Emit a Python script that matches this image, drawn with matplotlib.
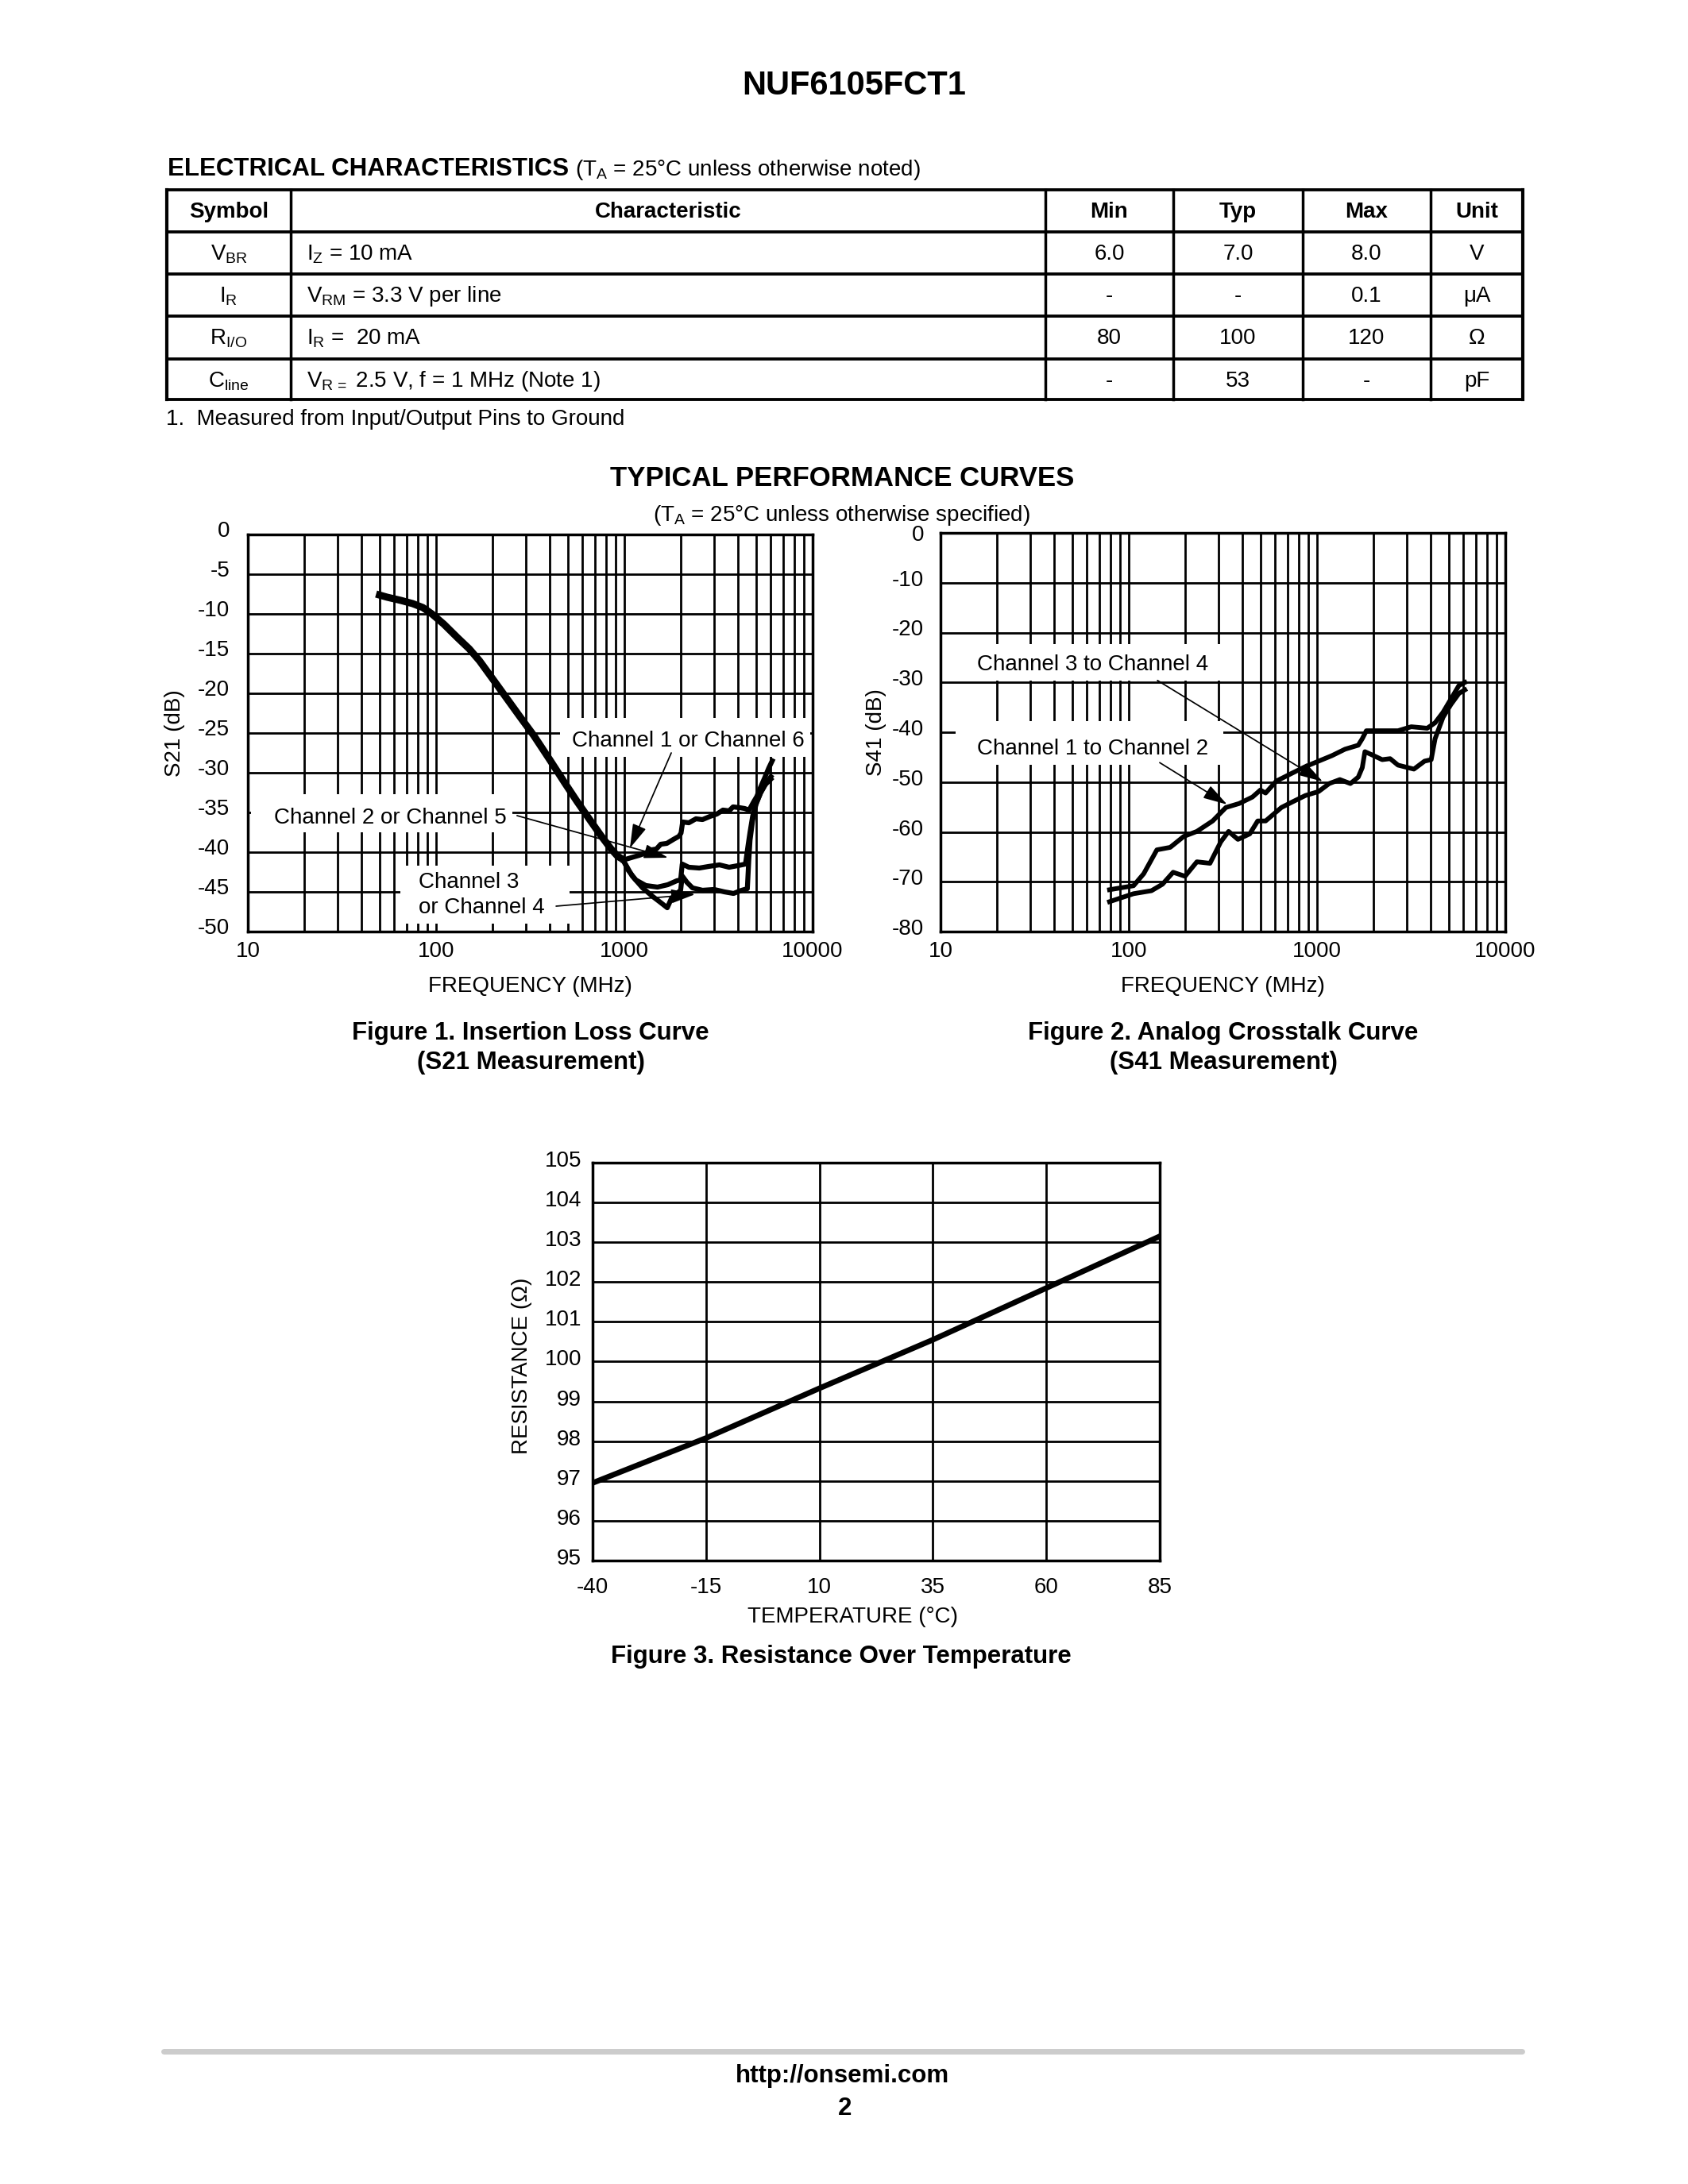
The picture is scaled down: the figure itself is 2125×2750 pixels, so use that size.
import matplotlib
matplotlib.use('Agg')
import matplotlib.pyplot as plt
import matplotlib.transforms as mtransforms
from matplotlib.patches import Rectangle
from matplotlib.ticker import LogLocator, NullFormatter

plt.rcParams['font.family'] = ['Liberation Sans', 'DejaVu Sans']
plt.rcParams['mathtext.fontset'] = 'custom'
plt.rcParams['mathtext.rm'] = 'Liberation Sans'
plt.rcParams['mathtext.it'] = 'Liberation Sans:italic'
plt.rcParams['mathtext.bf'] = 'Liberation Sans:bold'

W, H = 2125, 2750
DPI = 250

# ---- table data ----
col_headers = ['Symbol', 'Characteristic', 'Min', 'Typ', 'Max', 'Unit']
symbols = [r'V$_{\mathrm{BR}}$', r'I$_{\mathrm{R}}$', r'R$_{\mathrm{I/O}}$', r'C$_{\mathrm{line}}$']
conditions = [r'I$_{\mathrm{Z}}$ = 10 mA', r'V$_{\mathrm{RM}}$ = 3.3 V per line',
              r'I$_{\mathrm{R}}$ =  20 mA', r'V$_{\mathrm{R}\,=}$ 2.5 V, f = 1 MHz (Note 1)']
min_vals = ['6.0', '-', '80', '-']
typ_vals = ['7.0', '-', '100', '53']
max_vals = ['8.0', '0.1', '120', '-']
units = ['V', 'μA', 'Ω', 'pF']

# ---- Figure 1: S21 ----
s21_main_f = [48, 55, 65, 75, 85, 95, 110, 130, 150, 170, 200, 240, 280, 330, 400, 480, 560,
              650, 750, 850, 920, 980]
s21_main_db = [-7.5, -7.9, -8.3, -8.7, -9.2, -10.0, -11.3, -13.0, -14.4, -15.9, -18.2, -20.8,
               -23.0, -25.3, -28.3, -31.2, -33.6, -35.8, -37.9, -39.6, -40.5, -40.9]
ch16_f = [980, 1050, 1120, 1200, 1300, 1400, 1480, 1560, 1680, 1820, 1950, 2000, 2040, 2200,
          2400, 2600, 2850, 3100, 3340, 3600, 3780, 4100, 4350, 4600, 4850, 5050, 5250, 5550,
          5850, 6100]
ch16_db = [-41.0, -40.8, -40.6, -40.4, -40.1, -39.7, -39.6, -39.0, -38.9, -38.4, -38.0, -37.6,
           -36.2, -36.3, -35.8, -35.9, -35.5, -35.2, -34.7, -34.8, -34.3, -34.4, -34.5, -34.7,
           -33.7, -33.0, -32.0, -30.7, -29.4, -28.5]
ch25_f = [980, 1050, 1150, 1300, 1500, 1700, 1900, 1990, 2030, 2200, 2500, 2800, 3200, 3600,
          4000, 4400, 4550, 4650, 4800, 5000, 5300, 5600, 6000]
ch25_db = [-40.9, -42.3, -43.5, -44.2, -44.4, -44.1, -43.6, -43.5, -41.5, -41.9, -42.0, -41.8,
           -41.6, -41.9, -41.7, -41.5, -39.0, -37.5, -35.5, -33.9, -32.5, -31.5, -30.5]
ch34_f = [980, 1100, 1250, 1400, 1550, 1690, 1780, 1900, 1990, 2030, 2150, 2300, 2600, 3000,
          3400, 3800, 4200, 4500, 4580, 4650, 4800, 5000, 5300, 5600, 6000]
ch34_db = [-40.9, -43.0, -44.5, -45.5, -46.3, -47.0, -45.8, -45.2, -44.8, -43.0, -43.8, -44.5,
           -44.8, -44.7, -45.0, -45.2, -44.8, -44.6, -41.0, -38.5, -36.0, -34.0, -32.5, -31.5,
           -30.8]

# ---- Figure 2: S41 ----
s41_12_f = [79, 106, 120, 141, 166, 196, 230, 279, 328, 386, 454, 500, 533, 608, 738, 867,
            1019, 1199, 1409, 1656, 1739, 1827, 2147, 2692, 3167, 3846, 4237, 4669, 5149, 5676,
            6100]
s41_12_db = [-71.6, -70.8, -68.4, -63.6, -63.1, -60.9, -59.9, -57.8, -55.1, -54.3, -53.0, -51.6,
             -52.2, -49.8, -48.2, -46.9, -45.8, -44.7, -43.4, -42.6, -41.3, -39.7, -39.7, -39.7,
             -38.9, -39.2, -38.1, -36.0, -33.3, -30.6, -30.0]
s41_34_f = [79, 106, 132, 151, 172, 199, 230, 270, 308, 339, 380, 439, 484, 533, 647, 738, 867,
            1019, 1160, 1322, 1504, 1656, 1739, 1796, 1948, 2218, 2445, 2692, 3270, 3725, 4040,
            4237, 4669, 5149, 5676, 6100]
s41_34_db = [-74.0, -72.4, -71.8, -70.5, -68.1, -68.9, -66.0, -66.3, -62.0, -59.9, -61.5, -60.4,
             -57.8, -57.8, -55.1, -54.0, -52.7, -51.9, -50.3, -49.5, -50.3, -49.0, -47.1, -43.9,
             -44.5, -45.5, -45.3, -46.6, -47.4, -45.8, -45.5, -41.3, -37.0, -34.4, -32.2, -31.5]

# ---- Figure 3: resistance vs temperature ----
temps = [-40, -15, 10, 35, 60, 85]
resistance = [96.95, 98.08, 99.33, 100.55, 101.85, 103.15]

freq_ticks = [10, 100, 1000, 10000]
freq_labels = ['10', '100', '1000', '10000']

fig = plt.figure(figsize=(W / DPI, H / DPI), dpi=DPI)
page = fig.add_axes([0, 0, 1, 1])
page.set_xlim(0, W)
page.set_ylim(H, 0)
page.axis('off')


def px_axes(l, t, r, b):
    return fig.add_axes([l / W, 1 - b / H, (r - l) / W, (b - t) / H])


def lift_labels(ax, px, skip_top=False):
    off = mtransforms.ScaledTranslation(0, px / DPI, fig.dpi_scale_trans)
    labels = ax.get_yticklabels()
    if skip_top:
        labels = labels[:-1]
    for lab in labels:
        lab.set_transform(lab.get_transform() + off)


def style_axes(ax):
    ax.grid(True, which='both', color='black', lw=0.8)
    for sp in ax.spines.values():
        sp.set_linewidth(1.0)
    ax.tick_params(which='both', length=0, labelsize=8)


# ---- page header ----
page.text(1075, 119, 'NUF6105FCT1', fontsize=12, fontweight='bold', ha='center', va='baseline')
page.text(211, 221, 'ELECTRICAL CHARACTERISTICS', fontsize=9, fontweight='bold', va='baseline')
page.text(724, 221, r'(T$_{\mathrm{A}}$ = 25°C unless otherwise noted)', fontsize=8, va='baseline')

# ---- table ----
col_x = [210, 366, 1316, 1477, 1640, 1801, 1917]
row_y = [239, 292, 345, 398, 452, 503]
for yy in row_y:
    page.plot([col_x[0], col_x[-1]], [yy, yy], color='black', lw=1.1, solid_capstyle='projecting')
for xx in col_x:
    page.plot([xx, xx], [row_y[0], row_y[-1]], color='black', lw=1.0 if xx not in (col_x[0], col_x[-1]) else 1.2)

centers = [(col_x[i] + col_x[i + 1]) / 2 for i in range(len(col_x) - 1)]
for i, h in enumerate(col_headers):
    page.text(centers[i], row_y[0] + 35, h, fontsize=8, fontweight='bold', ha='center', va='baseline')
for r in range(len(symbols)):
    base = row_y[r + 1] + 35
    page.text(centers[0], base, symbols[r], fontsize=8, ha='center', va='baseline')
    page.text(col_x[1] + 20, base, conditions[r], fontsize=8, ha='left', va='baseline')
    for c, vals in zip(range(2, 6), [min_vals, typ_vals, max_vals, units]):
        page.text(centers[c], base, vals[r], fontsize=8, ha='center', va='baseline')
page.text(209, 535, '1.  Measured from Input/Output Pins to Ground', fontsize=8, va='baseline')

page.text(1060, 612, 'TYPICAL PERFORMANCE CURVES', fontsize=10, fontweight='bold', ha='center', va='baseline')
page.text(1060, 656, r'(T$_{\mathrm{A}}$ = 25°C unless otherwise specified)', fontsize=8, ha='center', va='baseline')

arrow_kw = dict(arrowstyle='-|>,head_length=0.75,head_width=0.22', color='black', lw=0.5,
                shrinkA=0, shrinkB=0, mutation_scale=10)

# ---- Figure 1 ----
ax1 = px_axes(312, 673, 1023, 1173)
ax1.set_xscale('log')
ax1.set_xlim(10, 10000)
ax1.set_ylim(-50, 0)
ax1.set_xticks(freq_ticks)
ax1.set_xticklabels(freq_labels)
ax1.xaxis.set_minor_locator(LogLocator(base=10, subs=range(2, 10), numticks=20))
ax1.xaxis.set_minor_formatter(NullFormatter())
ax1.set_yticks(range(-50, 1, 5))
ax1.set_yticklabels([str(v) for v in range(-50, 1, 5)])
style_axes(ax1)
ax1.tick_params(axis='x', pad=3.5)
ax1.tick_params(axis='y', pad=6.6)
lift_labels(ax1, 7)
ax1.set_xlabel('FREQUENCY (MHz)', fontsize=8, va='center')
ax1.xaxis.set_label_coords(0.5, -0.138)
ax1.set_ylabel('S21 (dB)', fontsize=8, va='center')
ax1.yaxis.set_label_coords(-0.129, 0.5)

for (x0, x1, y0, y1) in [(455, 9700, -28.0, -23.1), (10.4, 254, -37.5, -32.7), (64.6, 513, -49.0, -41.7)]:
    ax1.add_patch(Rectangle((x0, y0), x1 - x0, y1 - y0, facecolor='white', edgecolor='none', zorder=1.8))

ax1.plot(s21_main_f, s21_main_db, color='black', lw=2.6, zorder=2, solid_capstyle='butt')
for f, d in [(ch16_f, ch16_db), (ch25_f, ch25_db), (ch34_f, ch34_db)]:
    ax1.plot(f, d, color='black', lw=1.8, zorder=2, solid_joinstyle='round')

ax1.text(527, -26.0, 'Channel 1 or Channel 6', fontsize=8, va='center', zorder=3)
ax1.text(13.8, -35.7, 'Channel 2 or Channel 5', fontsize=8, va='center', zorder=3)
ax1.text(80.7, -45.4, 'Channel 3\nor Channel 4', fontsize=8, va='center', linespacing=1.25, zorder=3)
ax1.annotate('', xy=(1070, -39.5), xytext=(1775, -27.5), arrowprops=arrow_kw, zorder=3)
ax1.annotate('', xy=(1706, -40.7), xytext=(269, -35.4), arrowprops=arrow_kw, zorder=3)
ax1.annotate('', xy=(2377, -45.3), xytext=(434, -46.8), arrowprops=arrow_kw, zorder=3)

page.text(668, 1309, 'Figure 1. Insertion Loss Curve', fontsize=9, fontweight='bold', ha='center', va='baseline')
page.text(668, 1346, '(S21 Measurement)', fontsize=9, fontweight='bold', ha='center', va='baseline')

# ---- Figure 2 ----
ax2 = px_axes(1184, 671, 1895, 1173)
ax2.set_xscale('log')
ax2.set_xlim(10, 10000)
ax2.set_ylim(-80, 0)
ax2.set_xticks(freq_ticks)
ax2.set_xticklabels(freq_labels)
ax2.xaxis.set_minor_locator(LogLocator(base=10, subs=range(2, 10), numticks=20))
ax2.xaxis.set_minor_formatter(NullFormatter())
ax2.set_yticks(range(-80, 1, 10))
ax2.set_yticklabels([str(v) for v in range(-80, 1, 10)])
style_axes(ax2)
ax2.tick_params(axis='x', pad=3.5)
ax2.tick_params(axis='y', pad=6.0)
lift_labels(ax2, 6, skip_top=True)
ax2.set_xlabel('FREQUENCY (MHz)', fontsize=8, va='center')
ax2.xaxis.set_label_coords(0.5, -0.138)
ax2.set_ylabel('S41 (dB)', fontsize=8, va='center')
ax2.yaxis.set_label_coords(-0.114, 0.5)

for (x0, x1, y0, y1) in [(12.0, 318, -29.6, -22.3), (12.0, 318, -46.5, -37.8)]:
    ax2.add_patch(Rectangle((x0, y0), x1 - x0, y1 - y0, facecolor='white', edgecolor='none', zorder=1.8))

ax2.plot(s41_12_f, s41_12_db, color='black', lw=1.7, zorder=2, solid_joinstyle='round')
ax2.plot(s41_34_f, s41_34_db, color='black', lw=1.7, zorder=2, solid_joinstyle='round')

ax2.text(15.6, -26.4, 'Channel 3 to Channel 4', fontsize=8, va='center', zorder=3)
ax2.text(15.6, -43.3, 'Channel 1 to Channel 2', fontsize=8, va='center', zorder=3)
ax2.annotate('', xy=(1072, -49.9), xytext=(142, -29.6), arrowprops=arrow_kw, zorder=3)
ax2.annotate('', xy=(333, -54.5), xytext=(146, -46.1), arrowprops=arrow_kw, zorder=3)

page.text(1540, 1309, 'Figure 2. Analog Crosstalk Curve', fontsize=9, fontweight='bold', ha='center', va='baseline')
page.text(1540, 1346, '(S41 Measurement)', fontsize=9, fontweight='bold', ha='center', va='baseline')

# ---- Figure 3 ----
ax3 = px_axes(746, 1464, 1460, 1965)
ax3.set_xlim(-40, 85)
ax3.set_ylim(95, 105)
ax3.set_xticks(temps)
ax3.set_xticklabels([str(t) for t in temps])
ax3.set_yticks(range(95, 106))
ax3.set_yticklabels([str(v) for v in range(95, 106)])
style_axes(ax3)
ax3.tick_params(axis='x', pad=6.0)
ax3.tick_params(axis='y', pad=4.0)
lift_labels(ax3, 5)
ax3.plot(temps, resistance, color='black', lw=2.0, zorder=2)
ax3.set_xlabel('TEMPERATURE (°C)', fontsize=8, va='center')
ax3.xaxis.set_label_coords(0.458, -0.142)
ax3.set_ylabel('RESISTANCE (Ω)', fontsize=8, va='center')
ax3.yaxis.set_label_coords(-0.1246, 0.49)

page.text(1059, 2094, 'Figure 3. Resistance Over Temperature', fontsize=9, fontweight='bold', ha='center', va='baseline')

# ---- footer ----
page.plot([206, 1916], [2583, 2583], color='#cccccc', lw=2.0, solid_capstyle='round')
page.text(1061, 2622, 'http://onsemi.com', fontsize=9, fontweight='bold', ha='center', va='baseline')
page.text(1064, 2663, '2', fontsize=9, fontweight='bold', ha='center', va='baseline')

fig.savefig('out.png', dpi=DPI)
